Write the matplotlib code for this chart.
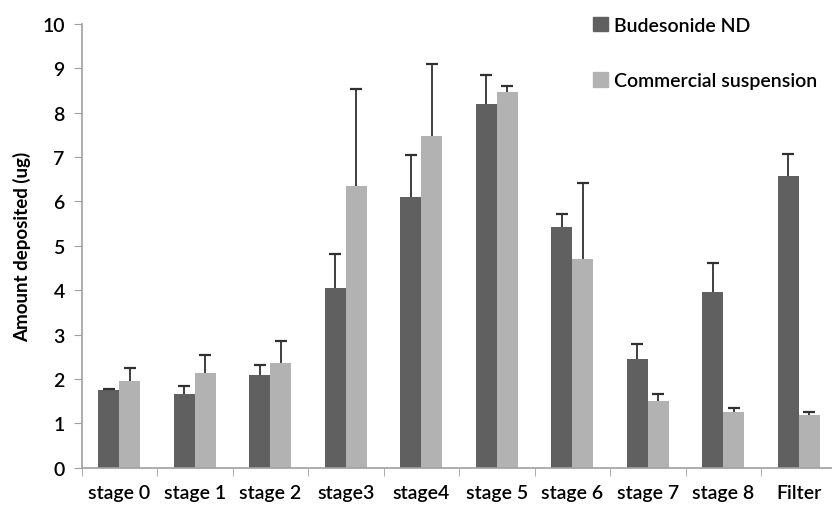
import matplotlib
matplotlib.use("Agg")
import matplotlib.pyplot as plt
import numpy as np
from matplotlib.patches import Patch

categories = ["stage 0", "stage 1", "stage 2", "stage3", "stage4", "stage 5",
              "stage 6", "stage 7", "stage 8", "Filter"]
budesonide_nd = [1.75, 1.66, 2.08, 4.04, 6.09, 8.19, 5.43, 2.44, 3.95, 6.57]
budesonide_err = [0.03, 0.18, 0.24, 0.77, 0.96, 0.66, 0.29, 0.35, 0.66, 0.50]
commercial = [1.96, 2.14, 2.35, 6.35, 7.47, 8.46, 4.71, 1.51, 1.25, 1.18]
commercial_err = [0.28, 0.39, 0.51, 2.19, 1.62, 0.15, 1.70, 0.14, 0.10, 0.08]
series_labels = ["Budesonide ND", "Commercial suspension"]

plt.rcParams['font.family'] = ['Lato', 'DejaVu Sans']

fig = plt.figure(figsize=(8.32, 5.06), dpi=100)
ax = fig.add_axes([0.098, 0.0737, 0.902, 0.8769])

x = np.arange(len(categories))
w = 0.28
dark = "#606060"
light = "#b2b2b2"
ax.bar(x - w/2, budesonide_nd, w, color=dark, zorder=2)
ax.bar(x + w/2, commercial, w, color=light, zorder=2)

ecol = "#303030"
for xs, vals, errs in [(x - w/2, budesonide_nd, budesonide_err),
                       (x + w/2, commercial, commercial_err)]:
    vals = np.asarray(vals)
    tops = vals + np.asarray(errs)
    ax.vlines(xs, vals, tops, color=ecol, linewidth=1.3, zorder=3)
    ax.plot(xs, tops, linestyle='none', marker='_', markersize=9,
            markeredgewidth=1.6, color=ecol, zorder=3)

ax.set_xlim(-0.5, 9.44)
ax.set_ylim(0, 10)
ax.set_yticks(range(0, 11))
ax.set_xticks(x)
ax.set_xticklabels(categories)
ax.set_xticks(np.arange(-0.5, 9.5, 1.0), minor=True)
ax.tick_params(axis='x', which='major', length=0, pad=12, labelsize=14)
ax.tick_params(axis='x', which='minor', length=6, color="#a0a0a0", direction='out')
ax.tick_params(axis='y', length=6, color="#a0a0a0", labelsize=14, pad=6)
for lab in ax.get_xticklabels() + ax.get_yticklabels():
    lab.set_fontweight('semibold')

for s in ['top', 'right']:
    ax.spines[s].set_visible(False)
for s in ['left', 'bottom']:
    ax.spines[s].set_color("#a0a0a0")
    ax.spines[s].set_linewidth(1.2)

ax.set_ylabel("Amount deposited (ug)", fontsize=13.5, fontweight='bold', labelpad=8)

handles = [Patch(color=dark), Patch(color=light)]
ax.legend(handles, series_labels, loc='upper left', bbox_to_anchor=(0.692, 1.0),
          bbox_transform=fig.transFigure, frameon=False,
          handlelength=0.75, handleheight=0.75, handletextpad=0.3,
          labelspacing=2.0, prop={'weight': 'semibold', 'size': 14})

fig.savefig("out.png", dpi=100)
